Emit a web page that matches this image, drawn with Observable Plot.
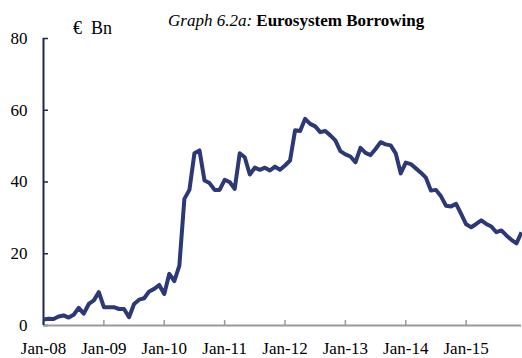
<!DOCTYPE html>
<html>
<head>
<meta charset="utf-8">
<script src="https://cdn.jsdelivr.net/npm/d3@7"></script>
<script src="https://cdn.jsdelivr.net/npm/@observablehq/plot@0.6"></script>
<style>
  html, body { margin: 0; padding: 0; background: #fff; }
  #wrap { position: relative; width: 522px; height: 358px; font-family: "Liberation Serif", "Times New Roman", serif; }
  #title { position: absolute; left: 168px; top: 12px; font-size: 17px; line-height: 17px; white-space: nowrap; color: #000; }
  #unit { position: absolute; left: 73px; top: 19px; font-size: 18px; line-height: 18px; white-space: nowrap; color: #000; }
</style>
</head>
<body>
<div id="wrap">
  <div id="chart"></div>
  <div id="title"><i>Graph 6.2a:</i> <b>Eurosystem Borrowing</b></div>
  <div id="unit">€&nbsp;&nbsp;Bn</div>
</div>
<script>
// Monthly Eurosystem borrowing (€ Bn), Jan-08 .. Dec-15
const values = [
  1.7, 1.9, 1.8, 2.5, 2.8, 2.2, 3.0, 4.9, 3.3, 6.0, 7.0, 9.3,
  5.1, 5.1, 5.1, 4.6, 4.6, 2.3, 6.0, 7.2, 7.6, 9.5, 10.2, 11.3,
  8.8, 14.4, 12.4, 16.7, 35.3, 37.8, 48.0, 48.8, 40.4, 39.7, 37.8, 37.8,
  40.6, 40.0, 38.1, 48.0, 46.9, 42.1, 44.0, 43.4, 44.0, 43.2, 44.3, 43.4,
  44.6, 46.0, 54.4, 54.2, 57.6, 56.2, 55.5, 53.9, 54.2, 53.0, 51.6, 48.6,
  47.7, 47.1, 45.5, 49.5, 48.1, 47.5, 49.2, 51.1, 50.5, 50.2, 48.0, 42.4,
  45.4, 45.0, 43.8, 42.6, 41.2, 37.6, 37.8, 36.0, 33.4, 33.2, 33.9, 31.1,
  28.2, 27.4, 28.3, 29.3, 28.3, 27.6, 26.0, 26.5, 25.1, 23.9, 22.9, 26.0
];
const monthIndex = values.map((_, i) => i);
const xTickIndex = [0, 12, 24, 36, 48, 60, 72, 84];
const xTickLabels = ["Jan-08", "Jan-09", "Jan-10", "Jan-11", "Jan-12", "Jan-13", "Jan-14", "Jan-15"];
const yTicks = [0, 20, 40, 60, 80];

const data = values.map((v, i) => ({i: monthIndex[i], v}));
const labelOf = new Map(xTickIndex.map((t, k) => [t, xTickLabels[k]]));

const navy = "#2d3876";
const axisNavy = "#1f2650";
const axisGray = "#9a9a9a";

const chart = Plot.plot({
  width: 522,
  height: 358,
  marginLeft: 43,
  marginRight: 1,
  marginTop: 38,
  marginBottom: 33,
  style: {fontFamily: "'Liberation Serif', 'Times New Roman', serif", fontSize: "17px", color: "#000", background: "#fff"},
  x: {domain: [0, monthIndex[monthIndex.length - 1]]},
  y: {domain: [0, 80]},
  marks: [
    Plot.axisY(yTicks, {tickSize: -5, tickPadding: 21, stroke: axisNavy, strokeWidth: 1.5, fill: "#000", label: null}),
    Plot.axisX(xTickIndex, {tickSize: -5, tickPadding: 21, stroke: axisGray, strokeWidth: 1.5, fill: "#000", label: null, tickFormat: d => labelOf.get(d)}),
    Plot.ruleY([0], {stroke: axisGray, strokeWidth: 2}),
    Plot.ruleX([0], {stroke: axisNavy, strokeWidth: 2}),
    Plot.line(data, {x: "i", y: "v", stroke: navy, strokeWidth: 4, strokeLinejoin: "round", strokeLinecap: "butt"})
  ]
});
document.getElementById("chart").appendChild(chart);
</script>
</body>
</html>
